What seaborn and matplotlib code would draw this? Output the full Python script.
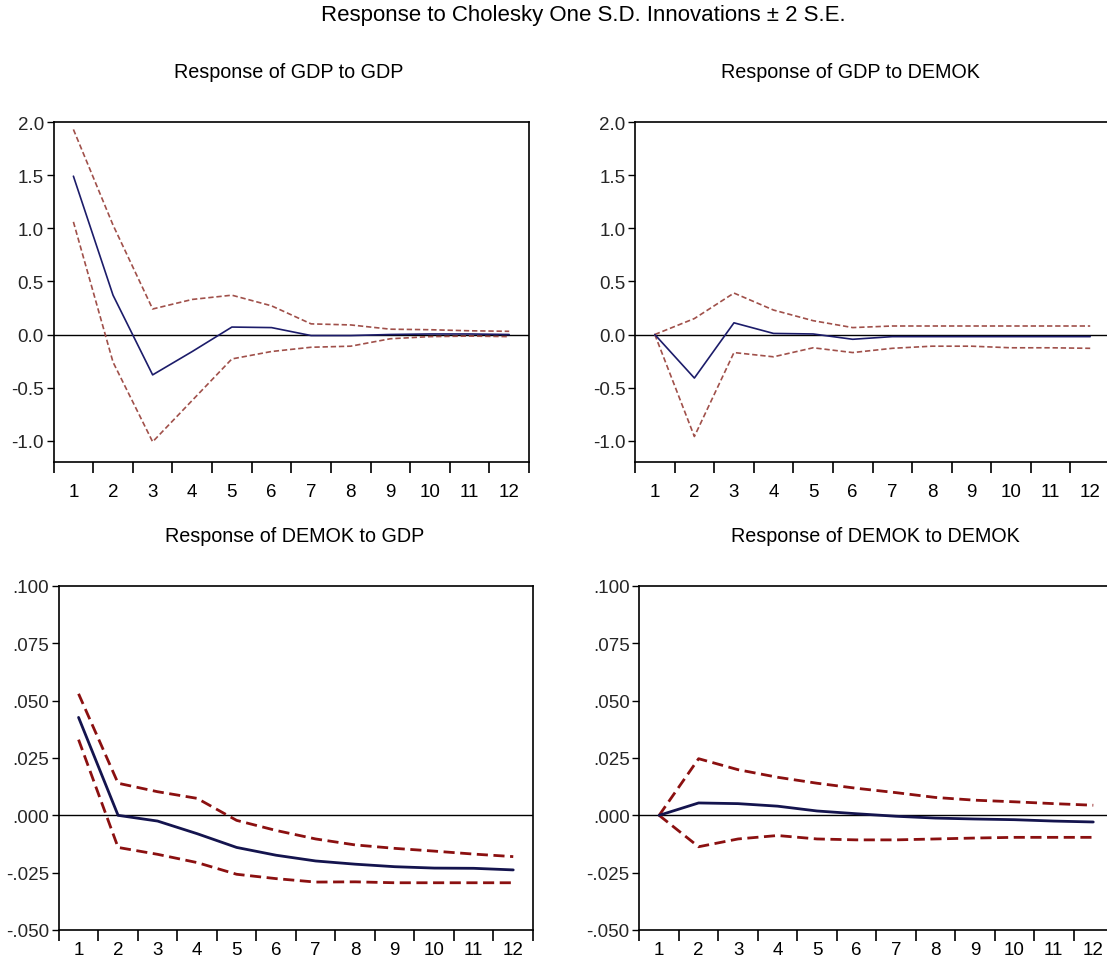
import numpy as np
import pandas as pd
import matplotlib
matplotlib.use("Agg")
import matplotlib.pyplot as plt
import seaborn as sns
from matplotlib.ticker import FixedLocator, FuncFormatter

sns.set_theme(style="white")
plt.rcParams['font.family'] = ['Liberation Sans', 'DejaVu Sans']

steps = list(range(1, 13))

suptitle = "Response to Cholesky One S.D. Innovations \u00b1 2 S.E."
titles = ["Response of GDP to GDP", "Response of GDP to DEMOK",
          "Response of DEMOK to GDP", "Response of DEMOK to DEMOK"]

# Response of GDP to GDP
gdp_gdp = [1.49, 0.37, -0.38, -0.16, 0.07, 0.065, -0.01, -0.01, 0.0, 0.005, 0.005, 0.0]
gdp_gdp_up = [1.93, 1.03, 0.24, 0.33, 0.37, 0.27, 0.10, 0.09, 0.05, 0.045, 0.035, 0.03]
gdp_gdp_lo = [1.06, -0.26, -1.01, -0.62, -0.23, -0.16, -0.12, -0.11, -0.04, -0.02, -0.015, -0.02]

# Response of GDP to DEMOK
gdp_dem = [0.0, -0.41, 0.11, 0.01, 0.005, -0.045, -0.02, -0.02, -0.02, -0.02, -0.02, -0.02]
gdp_dem_up = [0.0, 0.15, 0.39, 0.23, 0.13, 0.065, 0.08, 0.08, 0.08, 0.08, 0.08, 0.08]
gdp_dem_lo = [0.0, -0.96, -0.17, -0.21, -0.125, -0.17, -0.13, -0.11, -0.11, -0.125, -0.125, -0.13]

# Response of DEMOK to GDP
dem_gdp = [0.0427, 0.0, -0.0025, -0.008, -0.014, -0.0174, -0.0199, -0.0213, -0.0224, -0.023, -0.0231, -0.0238]
dem_gdp_up = [0.053, 0.014, 0.0103, 0.0074, -0.0022, -0.0066, -0.0103, -0.0129, -0.0144, -0.0156, -0.0169, -0.018]
dem_gdp_lo = [0.033, -0.014, -0.017, -0.0206, -0.0257, -0.0276, -0.0291, -0.029, -0.0294, -0.0294, -0.0294, -0.0294]

# Response of DEMOK to DEMOK
dem_dem = [0.0, 0.0054, 0.0051, 0.004, 0.0019, 0.0007, -0.0004, -0.0012, -0.0016, -0.0019, -0.0025, -0.0029]
dem_dem_up = [0.0, 0.0247, 0.0199, 0.0166, 0.014, 0.0118, 0.0099, 0.0078, 0.0066, 0.0059, 0.0051, 0.0044]
dem_dem_lo = [0.0, -0.0137, -0.0103, -0.0088, -0.0103, -0.0107, -0.0107, -0.0103, -0.0099, -0.0096, -0.0096, -0.0096]

panels = [
    (gdp_gdp, gdp_gdp_up, gdp_gdp_lo),
    (gdp_dem, gdp_dem_up, gdp_dem_lo),
    (dem_gdp, dem_gdp_up, dem_gdp_lo),
    (dem_dem, dem_dem_up, dem_dem_lo),
]
ylims = [(-1.2, 2.0), (-1.2, 2.0), (-0.05, 0.1), (-0.05, 0.1)]
yticks_top = [-1.0, -0.5, 0.0, 0.5, 1.0, 1.5, 2.0]
yticks_bot = [-0.050, -0.025, 0.0, 0.025, 0.050, 0.075, 0.100]

W, H = 1107, 962
fig = plt.figure(figsize=(W / 100, H / 100), dpi=100)
fig.patch.set_facecolor("white")

boxes = [
    (53.6, 123, 529, 463),
    (635, 123, 1110, 463),
    (58.8, 587, 533, 931),
    (639.4, 587, 1113, 931),
]
title_pos = [(289, 72), (850, 72), (295, 537), (875, 537)]

def fmt_top(v, pos):
    return f"{v:.1f}"

def fmt_bot(v, pos):
    s = f"{v:.3f}"
    s = s.replace("0.", ".")
    return s

for i, (box, (imp, up, lo)) in enumerate(zip(boxes, panels)):
    l, t, r, b = box
    ax = fig.add_axes([l / W, 1 - b / H, (r - l) / W, (b - t) / H])
    ax.set_facecolor("white")
    top = i < 2
    lw_main = 1.2 if top else 2.0
    lw_band = 1.2 if top else 2.0
    band_color = "#a0504a" if top else "#8b1010"
    main_color = "#1c1c6a" if top else "#14144e"
    dash = (3.2, 1.7) if top else (4, 2)
    ax.axhline(0, color="black", lw=1.0, zorder=1)
    df = pd.DataFrame({"step": steps, "imp": imp, "up": up, "lo": lo})
    sns.lineplot(data=df, x="step", y="up", ax=ax, color=band_color, lw=lw_band, zorder=2)
    ax.lines[-1].set_dashes(dash)
    sns.lineplot(data=df, x="step", y="lo", ax=ax, color=band_color, lw=lw_band, zorder=2)
    ax.lines[-1].set_dashes(dash)
    sns.lineplot(data=df, x="step", y="imp", ax=ax, color=main_color, lw=lw_main, zorder=3)
    ax.set_xlim(0.5, 12.5)
    ax.set_ylim(*ylims[i])
    ax.set_xlabel("")
    ax.set_ylabel("")
    ax.set_xticks(steps)
    ax.set_xticklabels([str(s) for s in steps], fontsize=13.5)
    ax.xaxis.set_minor_locator(FixedLocator(np.arange(0.5, 13.0, 1.0)))
    ax.tick_params(axis="x", which="major", length=0, pad=15 if top else 8, colors="black")
    ax.tick_params(axis="x", which="minor", length=8, width=1.2, direction="out",
                   color="black", bottom=True)
    if top:
        ax.set_yticks(yticks_top)
        ax.yaxis.set_major_formatter(FuncFormatter(fmt_top))
    else:
        ax.set_yticks(yticks_bot)
        ax.yaxis.set_major_formatter(FuncFormatter(fmt_bot))
    ax.tick_params(axis="y", which="major", length=5, width=1.0, direction="out",
                   color="black", labelsize=13.5, pad=2, left=True)
    for sp in ax.spines.values():
        sp.set_color("black")
        sp.set_linewidth(1.2)
    ax.grid(False)
    tx, ty = title_pos[i]
    fig.text(tx / W, 1 - ty / H, titles[i], ha="center", va="center",
             fontsize=14.2, color="black")

fig.text(583 / W, 1 - 16 / H, suptitle, ha="center", va="center", fontsize=16, color="black")

fig.savefig("out.png", dpi=100, facecolor="white")
